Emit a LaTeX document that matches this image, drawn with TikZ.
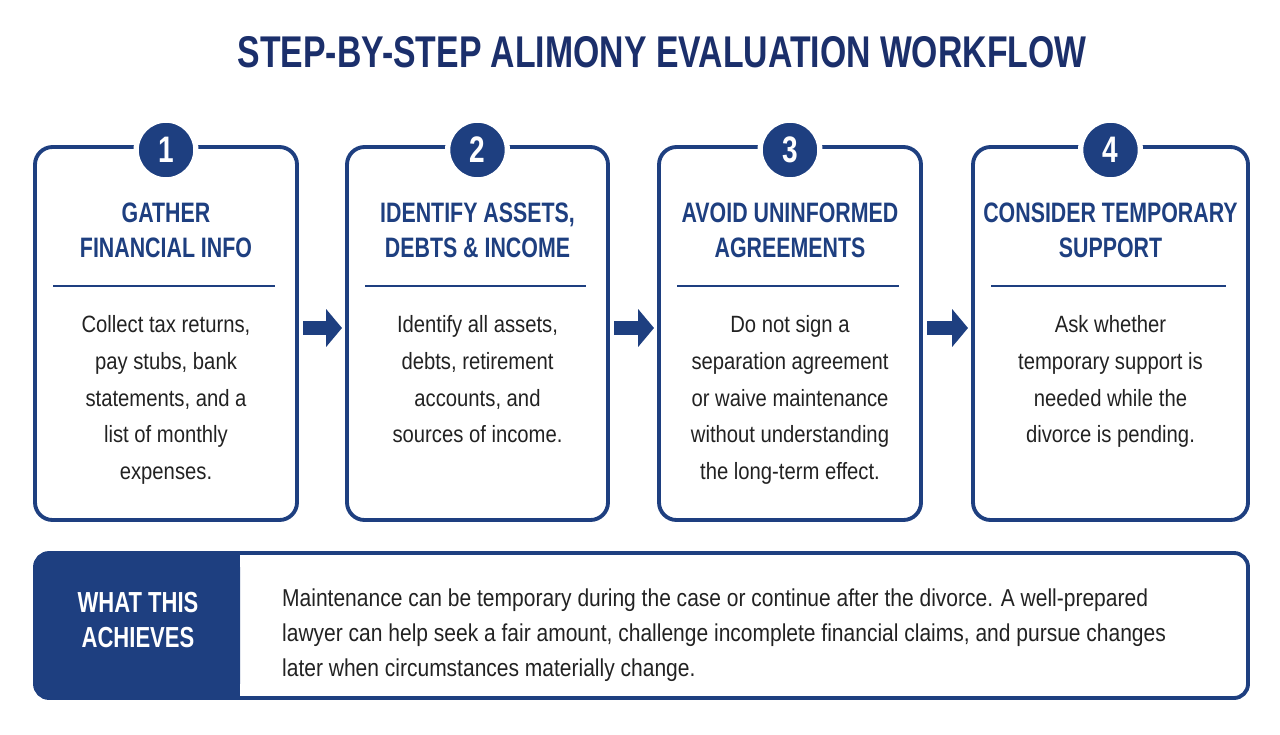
\documentclass[tikz,border=0pt]{standalone}
\usepackage{fontspec}
\setmainfont{Liberation Sans}[FakeStretch=0.86]
\newfontfamily\headfont{Liberation Sans}[FakeStretch=0.76]
\usetikzlibrary{positioning,arrows.meta}
\definecolor{navy}{HTML}{1E3F80}
\definecolor{titleblue}{HTML}{1B2F6B}
\definecolor{bodytext}{HTML}{222222}
\tikzset{
  stepbox/.style={draw=navy, line width=2.2pt, rounded corners=10pt},
  badge/.style={circle, fill=navy, draw=white, line width=3pt, minimum size=34pt,
    text=white, font=\headfont\bfseries\fontsize{21}{21}\selectfont},
  head/.style={text=navy, font=\headfont\bfseries\fontsize{16}{20}\selectfont, align=center},
  body/.style={text=bodytext, font=\fontsize{13.4}{21}\selectfont, align=center, anchor=north},
  flow/.style={-{Triangle[length=9pt,width=21pt]}, navy, line width=8pt}
}
\begin{document}
\begin{tikzpicture}[x=0.02cm,y=-0.02cm]
  \useasboundingbox (0,0) rectangle (1280,734);
  % title
  \node[text=titleblue, font=\headfont\bfseries\fontsize{25.3}{25}\selectfont] (title) at (662,52)
    {STEP-BY-STEP ALIMONY EVALUATION WORKFLOW};

  % four step boxes
  \foreach \n/\xa/\xb/\hd/\bd in {
    1/35/297/{GATHER\\FINANCIAL INFO}/{Collect tax returns,\\pay stubs, bank\\statements, and a\\list of monthly\\expenses.},
    2/347/608/{IDENTIFY ASSETS,\\DEBTS \& INCOME}/{Identify all assets,\\debts, retirement\\accounts, and\\sources of income.},
    3/659/921/{AVOID UNINFORMED\\AGREEMENTS}/{Do not sign a\\separation agreement\\or waive maintenance\\without understanding\\the long-term effect.},
    4/973/1248/{CONSIDER TEMPORARY\\SUPPORT}/{Ask whether\\temporary support is\\needed while the\\divorce is pending.}}{
    \draw[stepbox] (\xa,147) rectangle (\xb,520);
    \node[badge] (num\n) at ({(\xa+\xb)/2},150) {\n};
    \node[head] (head\n) at ({(\xa+\xb)/2},230) {\hd};
    \draw[navy, line width=1.6pt] ({\xa+18},286) -- ({\xb-22},286);
    \node[body] (body\n) at ({(\xa+\xb)/2},309) {\bd};
  }

  % arrows between steps
  \coordinate (a1) at (303,328); \coordinate (b1) at (342,328);
  \coordinate (a2) at (614,328); \coordinate (b2) at (654,328);
  \coordinate (a3) at (927,328); \coordinate (b3) at (968,328);
  \foreach \i in {1,2,3}
    \draw[flow] (a\i) -- (b\i);

  % summary panel
  \fill[navy, rounded corners=8pt] (35,553) rectangle (240,698);
  \fill[navy] (200,553) rectangle (240,698);
  \draw[stepbox, rounded corners=8pt] (35,553) rectangle (1248,698);
  \node[text=white, font=\headfont\bfseries\fontsize{16.5}{20}\selectfont, align=center] (what) at (138,620)
    {WHAT THIS\\ACHIEVES};
  \node[text=bodytext, font=\fontsize{13.9}{20}\selectfont, align=left, anchor=west] (summary) at (276,635)
    {Maintenance can be temporary during the case or continue after the divorce. A well-prepared\\
     lawyer can help seek a fair amount, challenge incomplete financial claims, and pursue changes\\
     later when circumstances materially change.};
\end{tikzpicture}
\end{document}
